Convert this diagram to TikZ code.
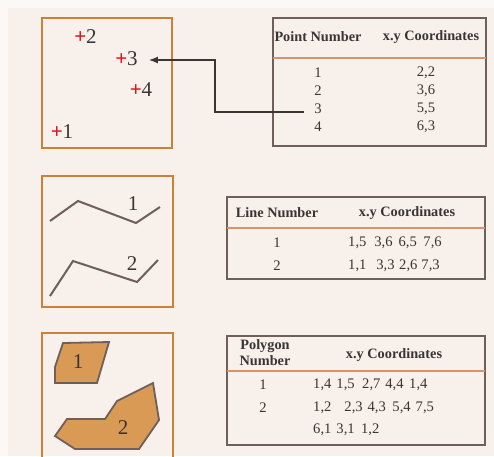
\documentclass[tikz,border=0pt]{standalone}
\usepackage{fontspec}
\setmainfont{Liberation Serif}
\usetikzlibrary{arrows.meta}
\definecolor{bgout}{HTML}{FBF8F6}
\definecolor{bgin}{HTML}{F7F0EB}
\definecolor{boxor}{HTML}{C98238}
\definecolor{tabline}{HTML}{6E5F59}
\definecolor{hdrline}{HTML}{D9936A}
\definecolor{txt}{HTML}{3A3533}
\definecolor{polyfill}{HTML}{D99A55}
\definecolor{ptred}{HTML}{E0141C}
\newcommand{\redplus}{\textcolor{ptred}{\textbf{+}}}
\tikzset{
  framebox/.style={draw=boxor, line width=2pt},
  tablebox/.style={draw=tabline, line width=2.6pt},
  hline/.style={draw=hdrline, line width=1.3pt},
  hdr/.style={font=\fontsize{14.3}{15}\selectfont\bfseries, text=txt, inner sep=0pt},
  cell/.style={font=\fontsize{14.6}{15}\selectfont, text=txt, inner sep=0pt},
  ptlab/.style={font=\fontsize{21}{22}\selectfont, text=txt, inner sep=0pt},
  polyline/.style={draw=tabline, line width=2pt},
  poly/.style={fill=polyfill, draw=tabline, line width=1.8pt, line join=miter},
  plab/.style={font=\fontsize{21}{22}\selectfont, text=txt, inner sep=0pt},
  conn/.style={draw=txt, line width=1.3pt, -{Latex[length=9pt,width=7pt]}},
}
\begin{document}
\begin{tikzpicture}[x=1pt,y=-1pt]
\useasboundingbox (0,0) rectangle (494,456);
\clip (0,0) rectangle (494,456);
\fill[bgout] (0,0) rectangle (494,456);
\fill[bgin] (8,8) rectangle (494,456);

% ---------- Points ----------
\draw[framebox] (42,18) rectangle (172,148);
\node[ptlab] (p2) at (85.5,37) {\redplus2};
\node[ptlab] (p3) at (126.5,59) {\redplus3};
\node[ptlab] (p4) at (141,90) {\redplus4};
\node[ptlab] (p1) at (62,132) {\redplus1};

\draw[tablebox] (273,18) rectangle (486,146);
\node[hdr] (h1a) at (318,37) {Point Number};
\node[hdr] (h1b) at (431,37) {x.y Coordinates};
\draw[hline] (273,58) -- (486,58);
\node[cell] (r1) at (318,73) {1};
\node[cell] (c1) at (426,73) {2,2};
\node[cell] (r2) at (318,91) {2};
\node[cell] (c2) at (426,91) {3,6};
\node[cell] (r3) at (318,109) {3};
\node[cell] (c3) at (426,109) {5,5};
\node[cell] (r4) at (318,127) {4};
\node[cell] (c4) at (426,127) {6,3};

\coordinate (bend) at (215,112);
\coordinate (start) at (304,112);
\draw[conn] (start) -- (bend) |- ([xshift=11pt,yshift=-1pt]p3.east);

% ---------- Lines ----------
\draw[framebox] (42,176) rectangle (173,307);
\draw[polyline] (50,221) -- (78,201) -- (136,223) -- (160,207);
\node[plab] (l1) at (133,204) {1};
\draw[polyline] (50,296) -- (73,261) -- (137,282) -- (158,260);
\node[plab] (l2) at (132,264) {2};

\draw[tablebox] (227,197) rectangle (485,279);
\node[hdr] (h2a) at (277,213) {Line Number};
\node[hdr] (h2b) at (407,213) {x.y Coordinates};
\draw[hline] (227,228) -- (485,228);
\node[cell] (lr1) at (277,243) {1};
\node[cell,anchor=west] (lc1) at (348,243) {1,5\hspace{8pt}3,6\hspace{6pt}6,5\hspace{6.5pt}7,6};
\node[cell] (lr2) at (277,266) {2};
\node[cell,anchor=west] (lc2) at (348,266) {1,1\hspace{10pt}3,3\hspace{4.5pt}2,6\hspace{4pt}7,3};

% ---------- Polygons ----------
\draw[framebox] (42,333) rectangle (173,470);
\draw[poly] (55,383) -- (55,367) -- (63,343) -- (109,342) -- (97,383) -- cycle;
\node[plab] (g1) at (78,362) {1};
\draw[poly] (55,436) -- (67,419) -- (105,419) -- (117,401) -- (153,383) -- (159,420) -- (139,449) -- (75,449) -- cycle;
\node[plab] (g2) at (123,428) {2};

\draw[tablebox] (227,336) rectangle (485,445);
\node[hdr, align=center, font=\fontsize{14.3}{16}\selectfont\bfseries] (h3a) at (265,353) {Polygon\\Number};
\node[hdr] (h3b) at (394,355) {x.y Coordinates};
\draw[hline] (227,371) -- (485,371);
\node[cell] (gr1) at (263,385) {1};
\node[cell,anchor=west] (gc1) at (313,385) {1,4\hspace{5pt}1,5\hspace{7.5pt}2,7\hspace{5pt}4,4\hspace{5.5pt}1,4};
\node[cell] (gr2) at (263,408) {2};
\node[cell,anchor=west] (gc2) at (313,408) {1,2\hspace{13pt}2,3\hspace{5pt}4,3\hspace{6.5pt}5,4\hspace{5pt}7,5};
\node[cell,anchor=west] (gc3) at (313,430) {6,1\hspace{5pt}3,1\hspace{6.5pt}1,2};
\end{tikzpicture}
\end{document}
